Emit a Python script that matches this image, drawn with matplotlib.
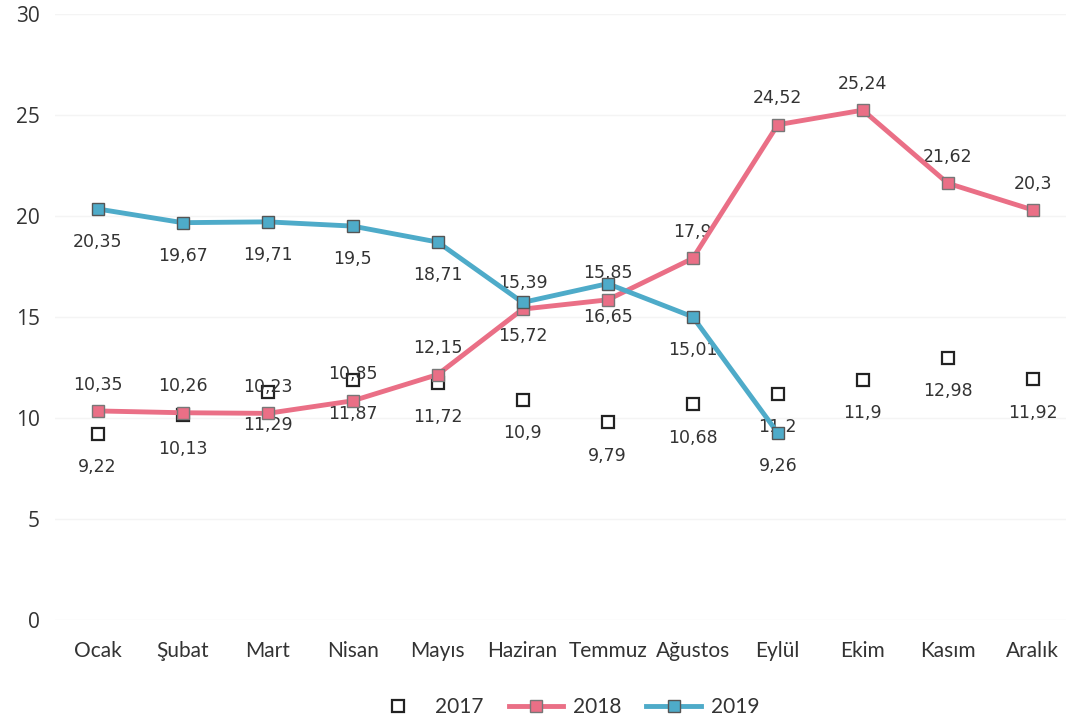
import matplotlib.pyplot as plt
import numpy as np

# aylar ve seriler
months = ["Ocak", "Şubat", "Mart", "Nisan", "Mayıs", "Haziran", "Temmuz",
          "Ağustos", "Eylül", "Ekim", "Kasım", "Aralık"]
y2017 = [9.22, 10.13, 11.29, 11.87, 11.72, 10.9, 9.79, 10.68, 11.2, 11.9, 12.98, 11.92]
y2018 = [10.35, 10.26, 10.23, 10.85, 12.15, 15.39, 15.85, 17.9, 24.52, 25.24, 21.62, 20.3]
y2019 = [20.35, 19.67, 19.71, 19.5, 18.71, 15.72, 16.65, 15.01, 9.26]

pink = "#ea6f86"
blue = "#4eabc9"
txt = "#333333"

def fmt(v):
    return ("%g" % v).replace(".", ",")

fig = plt.figure(figsize=(10.66, 7.25), dpi=100)
ax = fig.add_axes([55 / 1066, 105 / 725, 1011 / 1066, 606 / 725])

x = np.arange(len(months))

ax.plot(x, y2017, linestyle="none", marker="s", markersize=8,
        markerfacecolor="white", markeredgecolor="#222222", markeredgewidth=1.6,
        label="2017", zorder=3)
ax.plot(x, y2018, color=pink, linewidth=3.5, marker="s", markersize=9,
        markerfacecolor=pink, markeredgecolor="#777777", markeredgewidth=1,
        label="2018", zorder=4)
ax.plot(x[:len(y2019)], y2019, color=blue, linewidth=3.5, marker="s", markersize=9,
        markerfacecolor=blue, markeredgecolor="#555555", markeredgewidth=1,
        label="2019", zorder=5)

# veri etiketleri
lbl = dict(ha="center", va="center", fontsize=12.5, color=txt,
           family="DejaVu Sans", textcoords="offset points")
for xi, v in zip(x, y2017):
    ax.annotate(fmt(v), (xi, v), xytext=(0, -24), **lbl)
for xi, v in zip(x, y2018):
    ax.annotate(fmt(v), (xi, v), xytext=(0, 19), **lbl)
for xi, v in zip(x, y2019):
    ax.annotate(fmt(v), (xi, v), xytext=(0, -24), **lbl)

ax.set_xlim(-0.5, 11.39)
ax.set_ylim(0, 30)
ax.set_yticks(range(0, 31, 5))
ax.set_xticks(x)
ax.set_xticklabels(months, fontsize=15, color=txt, family="Lato")
ax.tick_params(axis="y", labelsize=15, labelcolor=txt, length=0, pad=11)
ax.tick_params(axis="x", length=0, pad=15)
for lab in ax.get_yticklabels():
    lab.set_family("Open Sans")
ax.grid(axis="y", color="#f4f4f4", linewidth=1)
for s in ax.spines.values():
    s.set_visible(False)

leg = fig.legend(loc="center", ncol=3, frameon=False, handlelength=2.6,
                 handletextpad=0.5, columnspacing=1.2,
                 prop={"family": "Lato", "size": 15})
leg.set_bbox_to_anchor((0.53, 1 - 707 / 725), transform=fig.transFigure)
for t in leg.get_texts():
    t.set_color(txt)

fig.savefig("out.png", dpi=100)
